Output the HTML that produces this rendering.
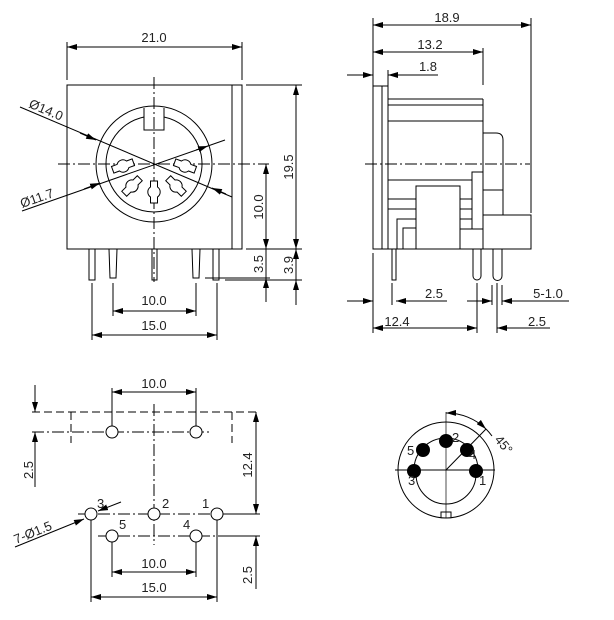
<!DOCTYPE html>
<html><head><meta charset="utf-8"><style>
html,body{margin:0;padding:0;background:#fff}
svg{display:block}
text{font-family:"Liberation Sans",sans-serif;font-size:13px;fill:#222}
</style></head><body>
<svg width="614" height="620" viewBox="0 0 614 620" xmlns="http://www.w3.org/2000/svg">
<defs>
<marker id="a" viewBox="0 0 10 6" refX="10" refY="3" markerWidth="10" markerHeight="6" orient="auto-start-reverse" markerUnits="userSpaceOnUse"><path d="M0,0 L10,3 L0,6 Z" fill="#000"/></marker>
<path id="slot" d="M-11,-3.5 L-5,-3.5 A6,6 0 0 1 5,-3.5 L11,-3.5 L11,3.5 L5,3.5 A6,6 0 0 1 -5,3.5 L-11,3.5 Z" fill="#fff" stroke="#000" stroke-width="1"/>
</defs>
<g stroke="#000" stroke-width="1" fill="none">
<rect x="67" y="85" width="175" height="164"/>
<line x1="232" y1="85" x2="232" y2="249"/>
<circle cx="154" cy="164" r="58"/>
<path d="M144,108 L144,130 L164,130 L164,108"/>
<path d="M144,117 A48,48 0 1 0 164,117"/>
<line x1="58" y1="164" x2="269" y2="164" stroke-dasharray="12,3,2,3"/>
<line x1="154" y1="77" x2="154" y2="282" stroke-dasharray="12,3,2,3"/>
</g>
<use href="#slot" transform="translate(123,166) rotate(-20)"/>
<use href="#slot" transform="translate(185,166) rotate(20)"/>
<use href="#slot" transform="translate(132,186) rotate(-45)"/>
<use href="#slot" transform="translate(176,186) rotate(45)"/>
<use href="#slot" transform="translate(154,192) rotate(90)"/>
<g stroke="#000" stroke-width="1" fill="none">
<rect x="89" y="249" width="6" height="31"/>
<path d="M109,249 L110,278 L116,278 L117,249"/>
<rect x="152" y="249" width="5" height="31"/>
<path d="M192,249 L193,278 L199,278 L200,249"/>
<rect x="213" y="249" width="6" height="31"/>
<line x1="20" y1="107" x2="232" y2="197"/>
<line x1="22" y1="211" x2="225" y2="140"/>
<line x1="80" y1="133" x2="96" y2="140" marker-end="url(#a)"/>
<line x1="226" y1="194" x2="212" y2="188" marker-end="url(#a)"/>
<line x1="84" y1="189" x2="100" y2="183" marker-end="url(#a)"/>
<line x1="196" y1="150" x2="208" y2="146" marker-end="url(#a)"/>
<line x1="67" y1="42" x2="67" y2="80"/><line x1="242" y1="42" x2="242" y2="80"/>
<line x1="67" y1="47" x2="242" y2="47" marker-start="url(#a)" marker-end="url(#a)"/>
<line x1="246" y1="85" x2="302" y2="85"/><line x1="246" y1="249" x2="302" y2="249"/>
<line x1="205" y1="278" x2="270" y2="278"/><line x1="225" y1="280" x2="302" y2="280"/>
<line x1="296" y1="85" x2="296" y2="249" marker-start="url(#a)" marker-end="url(#a)"/>
<line x1="296" y1="249" x2="296" y2="305"/>
<line x1="296" y1="280" x2="296" y2="292" marker-start="url(#a)"/>
<line x1="296" y1="249" x2="296" y2="262" marker-start="url(#a)"/>
<line x1="266" y1="164" x2="266" y2="249" marker-start="url(#a)" marker-end="url(#a)"/>
<line x1="266" y1="249" x2="266" y2="302"/>
<line x1="266" y1="278" x2="266" y2="290" marker-start="url(#a)"/>
<line x1="113" y1="283" x2="113" y2="316"/><line x1="196" y1="283" x2="196" y2="316"/>
<line x1="113" y1="311" x2="196" y2="311" marker-start="url(#a)" marker-end="url(#a)"/>
<line x1="92" y1="283" x2="92" y2="340"/><line x1="217" y1="283" x2="217" y2="340"/>
<line x1="92" y1="335" x2="217" y2="335" marker-start="url(#a)" marker-end="url(#a)"/>

<rect x="373" y="86" width="15" height="163"/>
<line x1="382" y1="86" x2="382" y2="249"/>
<line x1="388" y1="99" x2="483" y2="99"/>
<line x1="388" y1="105" x2="483" y2="105"/>
<line x1="388" y1="121" x2="483" y2="121"/>
<line x1="483" y1="99" x2="483" y2="249"/>
<path d="M483,133 L496,133 Q503,133 503,140 L503,215"/>
<line x1="483" y1="190" x2="503" y2="190"/>
<rect x="483" y="215" width="48" height="34"/>
<line x1="373" y1="249" x2="531" y2="249"/>
<line x1="388" y1="180" x2="472" y2="180"/>
<path d="M472,229 L472,172 L483,172"/>
<rect x="416" y="186" width="44" height="63"/>
<line x1="388" y1="199" x2="416" y2="199"/><line x1="388" y1="209" x2="416" y2="209"/>
<line x1="460" y1="199" x2="472" y2="199"/><line x1="460" y1="209" x2="472" y2="209"/>
<line x1="460" y1="219" x2="472" y2="219"/>
<line x1="460" y1="229" x2="483" y2="229"/>
<path d="M397,249 L397,219 L416,219"/>
<path d="M403,249 L403,228 L416,228"/>
<line x1="365" y1="164" x2="530" y2="164" stroke-dasharray="12,3,2,3"/>
<rect x="392" y="249" width="4" height="31"/>
<path d="M473,249 L473,276 A4,4 0 0 0 481,276 L481,249"/>
<path d="M493,249 L493,276 A4.5,4.5 0 0 0 502,276 L502,249"/>
<line x1="373" y1="18" x2="373" y2="86"/>
<line x1="531" y1="18" x2="531" y2="213"/>
<line x1="483" y1="48" x2="483" y2="85"/>
<line x1="388" y1="70" x2="388" y2="86"/>
<line x1="373" y1="25" x2="531" y2="25" marker-start="url(#a)" marker-end="url(#a)"/>
<line x1="373" y1="52" x2="483" y2="52" marker-start="url(#a)" marker-end="url(#a)"/>
<line x1="347" y1="75" x2="373" y2="75" marker-end="url(#a)"/>
<line x1="438" y1="75" x2="388" y2="75" marker-end="url(#a)"/>
<line x1="373" y1="253" x2="373" y2="333"/>
<line x1="392" y1="283" x2="392" y2="305"/>
<line x1="347" y1="301" x2="373" y2="301" marker-end="url(#a)"/>
<line x1="447" y1="301" x2="396" y2="301" marker-end="url(#a)"/>
<line x1="477" y1="283" x2="477" y2="333"/>
<line x1="497" y1="283" x2="497" y2="333"/>
<line x1="492" y1="285" x2="492" y2="305"/>
<line x1="502" y1="285" x2="502" y2="305"/>
<line x1="467" y1="301" x2="492" y2="301" marker-end="url(#a)"/>
<line x1="569" y1="301" x2="502" y2="301" marker-end="url(#a)"/>
<line x1="373" y1="328" x2="477" y2="328" marker-start="url(#a)" marker-end="url(#a)"/>
<line x1="550" y1="328" x2="497" y2="328" marker-end="url(#a)"/>

<line x1="32" y1="412" x2="259" y2="412" stroke-dasharray="8,4"/>
<line x1="71" y1="412" x2="71" y2="443" stroke-dasharray="8,4"/>
<line x1="232" y1="412" x2="232" y2="443" stroke-dasharray="8,4"/>
<line x1="32" y1="432" x2="210" y2="432" stroke-dasharray="12,3,2,3"/>
<line x1="154" y1="404" x2="154" y2="545" stroke-dasharray="12,3,2,3"/>
<circle cx="112" cy="432" r="6" fill="#fff"/><circle cx="196" cy="432" r="6" fill="#fff"/>
<line x1="112" y1="388" x2="112" y2="426"/><line x1="196" y1="388" x2="196" y2="426"/>
<line x1="112" y1="392" x2="196" y2="392" marker-start="url(#a)" marker-end="url(#a)"/>
<line x1="35" y1="385" x2="35" y2="412" marker-end="url(#a)"/>
<line x1="35" y1="487" x2="35" y2="432" marker-end="url(#a)"/>
<line x1="78" y1="514" x2="260" y2="514" stroke-dasharray="12,3,2,3"/>
<line x1="225" y1="514" x2="260" y2="514"/>
<line x1="98" y1="536" x2="260" y2="536" stroke-dasharray="12,3,2,3"/>
<line x1="225" y1="536" x2="260" y2="536"/>
<circle cx="91" cy="514" r="6" fill="#fff"/><circle cx="154" cy="514" r="6" fill="#fff"/><circle cx="217" cy="514" r="6" fill="#fff"/>
<circle cx="112" cy="536" r="6" fill="#fff"/><circle cx="196" cy="536" r="6" fill="#fff"/>
<line x1="256" y1="412" x2="256" y2="514" marker-start="url(#a)" marker-end="url(#a)"/>
<line x1="256" y1="589" x2="256" y2="536" marker-end="url(#a)"/>
<line x1="112" y1="542" x2="112" y2="577"/><line x1="196" y1="542" x2="196" y2="577"/>
<line x1="112" y1="572" x2="196" y2="572" marker-start="url(#a)" marker-end="url(#a)"/>
<line x1="91" y1="520" x2="91" y2="602"/><line x1="217" y1="520" x2="217" y2="602"/>
<line x1="91" y1="597" x2="217" y2="597" marker-start="url(#a)" marker-end="url(#a)"/>
<line x1="15" y1="547" x2="84" y2="519" marker-end="url(#a)"/>
<line x1="121" y1="502" x2="98" y2="511" marker-end="url(#a)"/>

<circle cx="446" cy="470" r="48"/>
<path d="M416,474 A30,30 0 0 0 476,474"/>
<path d="M414,470 A32,32 0 0 1 478,470"/>
<line x1="395" y1="470" x2="495" y2="470"/>
<line x1="446" y1="412" x2="446" y2="518" stroke-width="0.7"/>
<path d="M441,518 L441,512 L451,512 L451,518"/>
<line x1="446" y1="470" x2="486" y2="429"/>
<path d="M446,413 A57,57 0 0 1 486,429" marker-start="url(#a)" marker-end="url(#a)"/>
<path d="M486,429 A57,57 0 0 1 492,436"/>
</g>
<g fill="#000">
<circle cx="476" cy="471" r="7"/><circle cx="414" cy="471" r="7"/>
<circle cx="446" cy="441" r="7"/><circle cx="423" cy="450" r="7"/><circle cx="467" cy="450" r="7"/>
</g>
<text x="154" y="42" text-anchor="middle">21.0</text>
<text transform="translate(28,107) rotate(23)" font-size="12">Ø14.0</text>
<text transform="translate(22,208) rotate(-19)" font-size="12">Ø11.7</text>
<text transform="translate(293,167) rotate(-90)" text-anchor="middle">19.5</text>
<text transform="translate(293,265) rotate(-90)" text-anchor="middle">3.9</text>
<text transform="translate(263,207) rotate(-90)" text-anchor="middle">10.0</text>
<text transform="translate(263,264) rotate(-90)" text-anchor="middle">3.5</text>
<text x="154" y="305" text-anchor="middle">10.0</text>
<text x="154" y="330" text-anchor="middle">15.0</text>
<text x="447" y="22" text-anchor="middle">18.9</text>
<text x="430" y="49" text-anchor="middle">13.2</text>
<text x="428" y="71" text-anchor="middle">1.8</text>
<text x="434" y="298" text-anchor="middle">2.5</text>
<text x="548" y="298" text-anchor="middle">5-1.0</text>
<text x="397" y="326" text-anchor="middle">12.4</text>
<text x="537" y="326" text-anchor="middle">2.5</text>
<text x="154" y="388" text-anchor="middle">10.0</text>
<text transform="translate(33,470) rotate(-90)" text-anchor="middle">2.5</text>
<text transform="translate(252,465) rotate(-90)" text-anchor="middle">12.4</text>
<text transform="translate(252,575) rotate(-90)" text-anchor="middle">2.5</text>
<text x="154" y="568" text-anchor="middle">10.0</text>
<text x="154" y="592" text-anchor="middle">15.0</text>
<text transform="translate(16,544) rotate(-22)" font-size="12">7-Ø1.5</text>
<text x="97" y="508" font-size="11">3</text>
<text x="162" y="508" font-size="11">2</text>
<text x="202" y="508" font-size="11">1</text>
<text x="119" y="529" font-size="11">5</text>
<text x="183" y="529" font-size="11">4</text>
<text x="452" y="442" font-size="11">2</text>
<text x="407" y="455" font-size="11">5</text>
<text x="469" y="459" font-size="11">4</text>
<text x="408" y="485" font-size="11">3</text>
<text x="479" y="485" font-size="11">1</text>
<text transform="translate(494,440) rotate(50)" font-size="12">45°</text>
</svg>
</body></html>
